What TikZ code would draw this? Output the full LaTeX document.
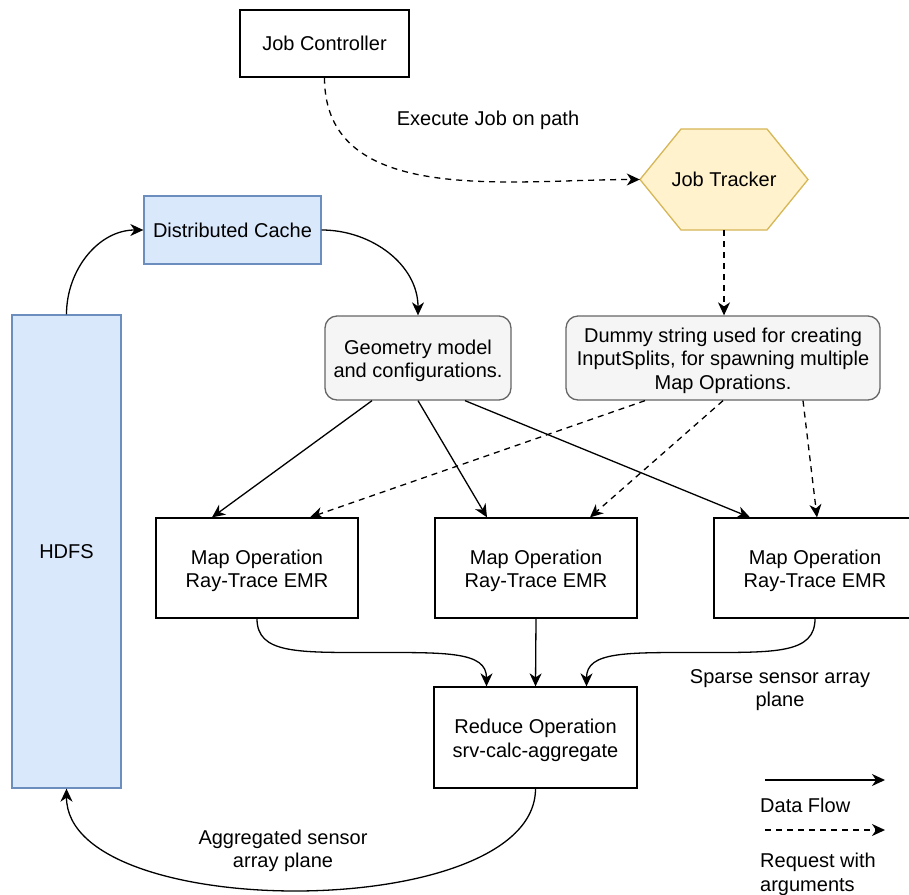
\documentclass[tikz,border=0pt]{standalone}
\usepackage{fontspec}
\setmainfont{Liberation Sans}
\usetikzlibrary{arrows.meta,calc}

\definecolor{blueFill}{HTML}{DAE8FC}
\definecolor{blueLine}{HTML}{6C8EBF}
\definecolor{yellowFill}{HTML}{FFF2CC}
\definecolor{yellowLine}{HTML}{D6B656}
\definecolor{greyFill}{HTML}{F5F5F5}
\definecolor{greyLine}{HTML}{666666}

% taller first line so stacked lines sit a little lower in their box
\newcommand{\tallline}{\rule{0pt}{20pt}}

\tikzset{
  tip/.style={-{Stealth[length=13pt,width=12pt,inset=4pt]}},
  flow/.style={tip, line width=1.3pt, black},
  req/.style={tip, line width=1.3pt, black, dash pattern=on 6pt off 5pt},
  plainbox/.style={draw=black, line width=1.3pt, fill=white, align=center, inner sep=0pt,
                   minimum width=202pt, minimum height=100pt},
  bluebox/.style={draw=blueLine, line width=1.3pt, fill=blueFill, align=center, inner sep=0pt},
  greybox/.style={draw=greyLine, line width=1.3pt, fill=greyFill, align=center, inner sep=0pt,
                  rounded corners=12pt},
  hexshape/.style={draw=yellowLine, line width=1.3pt, fill=yellowFill},
  lbl/.style={inner sep=0pt, align=center},
}

\begin{document}
\begin{tikzpicture}[x=1pt, y=-1pt, font=\fontsize{20}{23.5}\selectfont]
\useasboundingbox (0,0) rectangle (909,894);

% --- top row: controller and tracker ---
\node[plainbox, minimum width=169pt, minimum height=67pt] (jc) at (324.5,43.5) {Job Controller};

\coordinate (jtc) at (724,179.5);
\draw[hexshape] ($(jtc)+(-84,0)$) -- ($(jtc)+(-43,-50.5)$) -- ($(jtc)+(43,-50.5)$)
  -- ($(jtc)+(84,0)$) -- ($(jtc)+(43,50.5)$) -- ($(jtc)+(-43,50.5)$) -- cycle;
\node[inner sep=0pt, minimum width=168pt, minimum height=101pt] (jt) at (jtc) {Job Tracker};

% --- storage ---
\node[bluebox, minimum width=177pt, minimum height=68pt] (dc) at (232.5,230) {Distributed Cache};
\node[bluebox, minimum width=109pt, minimum height=473pt] (hdfs) at (66.5,551.5) {HDFS};

% --- inputs to the map stage ---
\node[greybox, minimum width=186pt, minimum height=84pt] (geo) at (418,358)
  {\tallline Geometry model\\and configurations.};
\node[greybox, minimum width=314pt, minimum height=84pt] (dum) at (723,358)
  {\tallline Dummy string used for creating\\InputSplits, for spawning multiple\\Map Oprations.};

% --- map and reduce stage ---
\node[plainbox] (m1) at (257,568) {\tallline Map Operation\\Ray-Trace EMR};
\node[plainbox] (m2) at (536,568) {\tallline Map Operation\\Ray-Trace EMR};
\node[plainbox] (m3) at (815,568) {\tallline Map Operation\\Ray-Trace EMR};
\node[plainbox, minimum width=203pt, minimum height=101pt] (red) at (535.5,737.5)
  {\tallline Reduce Operation\\srv-calc-aggregate};

% --- connectors ---
\draw[req] (jc.south) to[out=-90, in=180] (jt.west);
\draw[req] (jt.south) -- (jt.south |- dum.north);

\draw[flow] (hdfs.north) to[out=90, in=180] (dc.west);
\draw[flow] (dc.east) to[out=0, in=90] (geo.north);

\draw[flow] ([xshift=-46pt]geo.south) -- ([xshift=-45pt]m1.north);
\draw[flow] (geo.south) -- ([xshift=-49pt]m2.north);
\draw[flow] ([xshift=47pt]geo.south) -- ([xshift=-65pt]m3.north);

\draw[req] ([xshift=-78pt]dum.south) -- ([xshift=53pt]m1.north);
\draw[req] (dum.south) -- ([xshift=54pt]m2.north);
\draw[req] ([xshift=80pt]dum.south) -- ([xshift=2pt]m3.north);

\coordinate (redL) at ([xshift=-49pt]red.north);
\coordinate (redR) at ([xshift=51pt]red.north);
\coordinate (midL) at ($(m1.south)!0.5!(redL)$);
\coordinate (midR) at ($(m3.south)!0.5!(redR)$);
\draw[flow] (m1.south) .. controls +(0,35) and +(-75,0) .. (midL)
  .. controls +(75,0) and +(0,-35) .. (redL);
\draw[flow] (m2.south) -- (red.north);
\draw[flow] (m3.south) .. controls +(0,35) and +(75,0) .. (midR)
  .. controls +(-75,0) and +(0,-35) .. (redR);

\draw[flow] (red.south) .. controls +(0,135) and +(0,135) .. (hdfs.south);

% --- edge labels ---
\node[lbl] (lexec) at (488,120) {Execute Job on path};
\node[lbl] (lsparse) at (780,687) {\tallline Sparse sensor array\\plane};
\node[lbl] (lagg) at (283,848) {\tallline Aggregated sensor\\array plane};

% --- legend ---
\coordinate (dfA) at (765,780);
\coordinate (dfB) at (885,780);
\draw[flow] (dfA) -- (dfB);
\node[lbl, anchor=west] (ldf) at (760,805) {Data Flow};
\coordinate (rqA) at (765,830);
\coordinate (rqB) at (885,830);
\draw[req] (rqA) -- (rqB);
\node[lbl, anchor=north west, align=left] (lrq) at (760,853) {Request with\\arguments};

\end{tikzpicture}
\end{document}
